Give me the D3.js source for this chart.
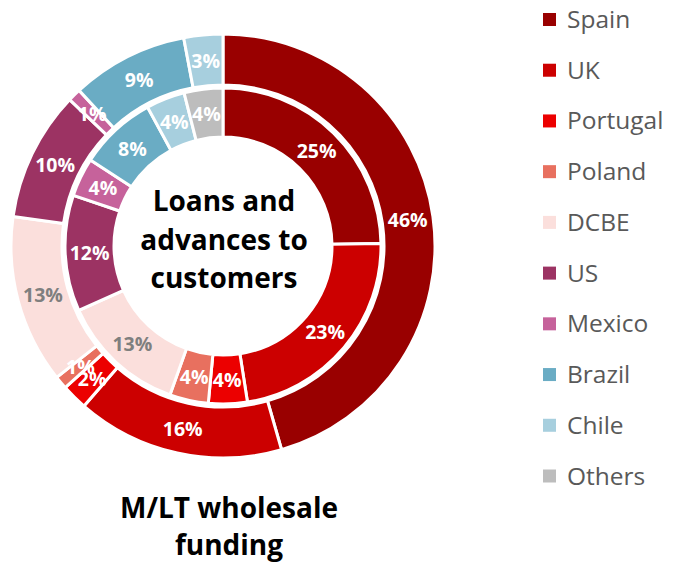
<!DOCTYPE html>
<html>
<head>
<meta charset="utf-8">
<script src="https://cdn.jsdelivr.net/npm/d3@7/dist/d3.min.js"></script>
<style>
  html, body { margin: 0; padding: 0; background: #ffffff; }
  svg { display: block; }
</style>
</head>
<body>
<svg id="chart" width="676" height="570"></svg>
<script>
const categories = ["Spain", "UK", "Portugal", "Poland", "DCBE", "US", "Mexico", "Brazil", "Chile", "Others"];
const loansValues = [25, 23, 4, 4, 13, 12, 4, 8, 4, 4];
const fundingValues = [46, 16, 2, 1, 13, 10, 1, 9, 3, 0];
const colors = ["#990000", "#cc0000", "#ec0000", "#e8705f", "#fbdfdc", "#9c3363", "#c6629b", "#6aacc4", "#a7cfde", "#bdbdbd"];
const labelColors = ["#ffffff", "#ffffff", "#ffffff", "#ffffff", "#7f7f7f", "#ffffff", "#ffffff", "#ffffff", "#ffffff", "#ffffff"];
const centerTitle = ["Loans and", "advances to", "customers"];
const bottomTitle = ["M/LT wholesale", "funding"];

const svg = d3.select("#chart");
const cx = 223, cy = 246;
const font = "'Open Sans', 'Noto Sans', sans-serif";

const color = d3.scaleOrdinal().domain(categories).range(colors);
const labelColor = d3.scaleOrdinal().domain(categories).range(labelColors);

const pie = d3.pie().sort(null).value(d => d.value);

const rings = [
  { values: fundingValues, inner: 161, outer: 212 },
  { values: loansValues, inner: 109, outer: 158 }
];

const g = svg.append("g").attr("transform", `translate(${cx},${cy})`);

rings.forEach(ring => {
  const data = categories.map((c, i) => ({ cat: c, value: ring.values[i] }));
  const arcs = pie(data).filter(d => d.data.value > 0);
  const arc = d3.arc().innerRadius(ring.inner).outerRadius(ring.outer);
  const rg = g.append("g");
  rg.selectAll("path")
    .data(arcs)
    .join("path")
    .attr("d", arc)
    .attr("fill", d => color(d.data.cat))
    .attr("stroke", "#ffffff")
    .attr("stroke-width", 3)
    .attr("stroke-linejoin", "miter");
  rg.selectAll("text")
    .data(arcs)
    .join("text")
    .attr("transform", d => `translate(${arc.centroid(d)})`)
    .attr("text-anchor", "middle")
    .attr("dominant-baseline", "central")
    .attr("font-family", font)
    .attr("font-weight", 700)
    .attr("font-size", 19.5)
    .attr("fill", d => labelColor(d.data.cat))
    .text(d => d.data.value + "%");
});

// Center title
svg.append("text")
  .attr("text-anchor", "middle")
  .attr("font-family", font)
  .attr("font-weight", 700)
  .attr("font-size", 28)
  .attr("fill", "#000000")
  .selectAll("tspan")
  .data(centerTitle)
  .join("tspan")
  .attr("x", 224)
  .attr("y", (d, i) => 211 + i * 38.5)
  .text(d => d);

// Bottom title
svg.append("text")
  .attr("text-anchor", "middle")
  .attr("font-family", font)
  .attr("font-weight", 700)
  .attr("font-size", 28)
  .attr("fill", "#000000")
  .selectAll("tspan")
  .data(bottomTitle)
  .join("tspan")
  .attr("x", 229)
  .attr("y", (d, i) => 518 + i * 37)
  .text(d => d);

// Legend
const legendY = d3.scalePoint().domain(categories).range([19.5, 476]);
const lg = svg.append("g");
const items = lg.selectAll("g")
  .data(categories)
  .join("g")
  .attr("transform", d => `translate(543,${legendY(d)})`);
items.append("rect")
  .attr("x", 0)
  .attr("y", -6.5)
  .attr("width", 13)
  .attr("height", 13)
  .attr("fill", d => color(d));
items.append("text")
  .attr("x", 24)
  .attr("y", 8.5)
  .attr("font-family", font)
  .attr("font-size", 24.5)
  .attr("fill", "#595959")
  .text(d => d);
</script>
</body>
</html>
